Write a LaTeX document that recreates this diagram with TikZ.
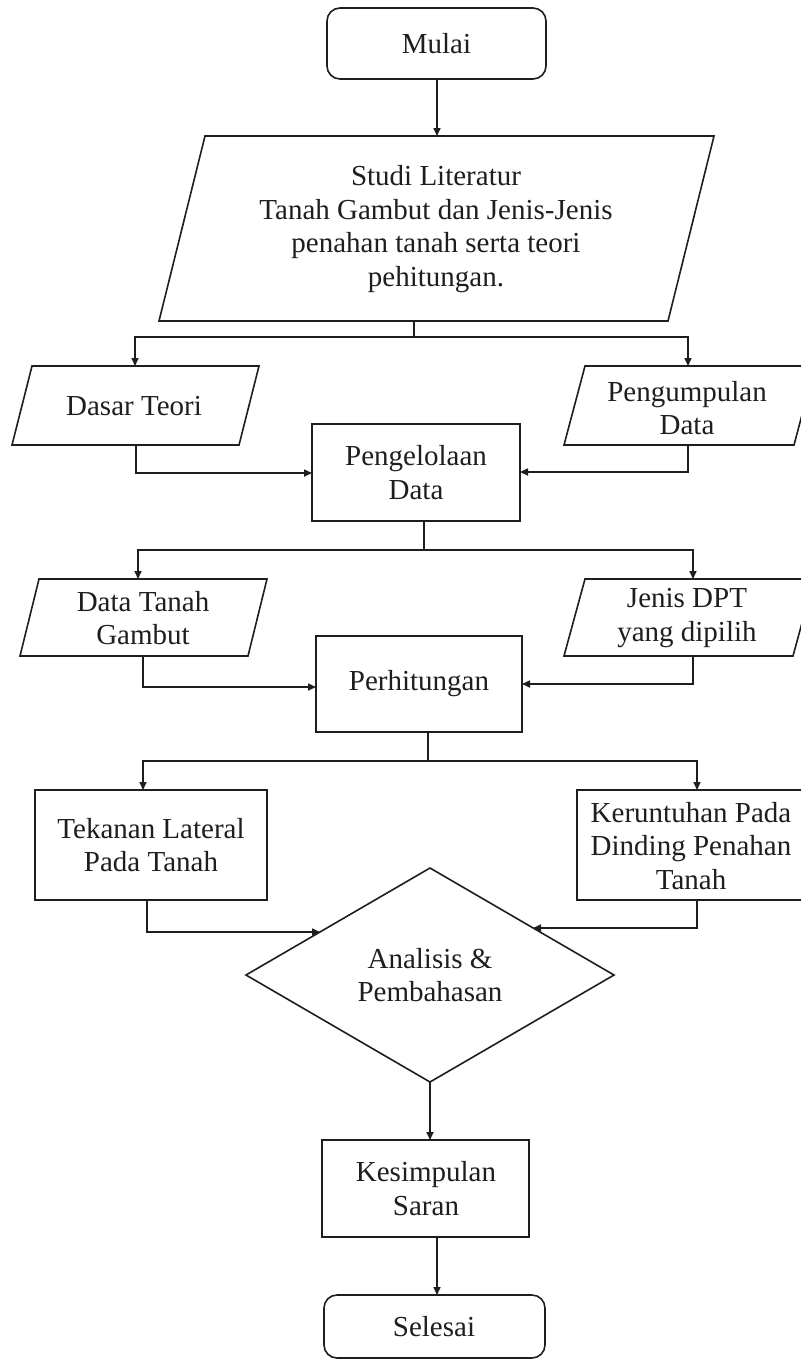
\documentclass[tikz,border=0pt]{standalone}
\usepackage{fontspec}
\setmainfont{Liberation Serif}
\usetikzlibrary{arrows.meta}
\definecolor{ink}{HTML}{1E1E1E}
\tikzset{
  shapeline/.style={draw=ink, line width=1.6pt, line join=miter},
  conn/.style={draw=ink, line width=1.6pt},
  arr/.style={conn, -{Triangle[length=8pt,width=7pt]}},
  txt/.style={align=center, text=ink, inner sep=0pt, font=\fontsize{29}{33.5}\selectfont}
}
\begin{document}
\begin{tikzpicture}[x=1pt,y=-1pt]
\useasboundingbox (0,0) rectangle (801,1361);
\fill[white] (0,0) rectangle (801,1361);

% ---------- shapes ----------
% Mulai
\draw[shapeline, rounded corners=13pt] (327,8) rectangle (546,79);
% Studi Literatur (parallelogram)
\draw[shapeline] (205,136) -- (714,136) -- (668,321) -- (159,321) -- cycle;
% Dasar Teori
\draw[shapeline] (32,366) -- (259,366) -- (239,445) -- (12,445) -- cycle;
% Pengumpulan Data
\draw[shapeline] (585,366) -- (815,366) -- (794,445) -- (564,445) -- cycle;
% Pengelolaan Data
\draw[shapeline] (312,424) rectangle (520,521);
% Data Tanah Gambut
\draw[shapeline] (39,579) -- (267,579) -- (248,656) -- (20,656) -- cycle;
% Jenis DPT
\draw[shapeline] (585,579) -- (814,579) -- (793,656) -- (564,656) -- cycle;
% Perhitungan
\draw[shapeline] (316,636) rectangle (522,732);
% Tekanan Lateral
\draw[shapeline] (35,790) rectangle (267,900);
% Keruntuhan
\draw[shapeline] (577,790) rectangle (806,900);
% Analisis diamond
\draw[shapeline] (430,868) -- (614,975) -- (430,1082) -- (246,975) -- cycle;
% Kesimpulan
\draw[shapeline] (322,1140) rectangle (529,1237);
% Selesai
\draw[shapeline, rounded corners=13pt] (324,1295) rectangle (545,1358);

% ---------- texts ----------
\node[txt] (mulai) at (436.5,43.5) {Mulai};
\node[txt] (studi) at (436,229) {Studi Literatur\\Tanah Gambut dan Jenis-Jenis\\penahan tanah serta teori\\pehitungan.};
\node[txt] (dasar) at (134,406) {Dasar Teori};
\node[txt] (kumpul) at (687,408) {Pengumpulan\\Data};
\node[txt] (kelola) at (416,472.5) {Pengelolaan\\Data};
\node[txt] (gambut) at (143,618) {Data Tanah\\Gambut};
\node[txt] (dpt) at (687,618) {Jenis DPT\\yang dipilih};
\node[txt] (hitung) at (419,684) {Perhitungan};
\node[txt] (tekanan) at (151,845) {Tekanan Lateral\\Pada Tanah};
\node[txt] (runtuh) at (691,846) {Keruntuhan Pada\\Dinding Penahan\\Tanah};
\node[txt] (analisis) at (430,975) {Analisis \&\\Pembahasan};
\node[txt] (simpul) at (426,1188.5) {Kesimpulan\\Saran};
\node[txt] (selesai) at (434,1327) {Selesai};

% ---------- connector coordinates ----------
\coordinate (mulaiS) at (437,79);
\coordinate (studiN) at (437,136);
\coordinate (studiS) at (414,321);
\coordinate (split1) at (414,337);
\coordinate (dasarN) at (135,366);
\coordinate (kumpulN) at (688,366);
\coordinate (dasarS) at (136,445);
\coordinate (kumpulS) at (688,445);
\coordinate (kelolaW) at (312,473);
\coordinate (kelolaE) at (520,472);
\coordinate (kelolaS) at (424,521);
\coordinate (split2) at (424,550);
\coordinate (gambutN) at (138,579);
\coordinate (dptN) at (693,579);
\coordinate (gambutS) at (143,656);
\coordinate (dptS) at (693,656);
\coordinate (hitungW) at (316,687);
\coordinate (hitungE) at (522,684);
\coordinate (hitungS) at (428,732);
\coordinate (split3) at (428,761);
\coordinate (tekananN) at (143,790);
\coordinate (runtuhN) at (697,790);
\coordinate (tekananS) at (147,900);
\coordinate (runtuhS) at (697,900);
\coordinate (diaL) at (320,932);
\coordinate (diaR) at (533,928);
\coordinate (diaS) at (430,1082);
\coordinate (simpulN) at (430,1140);
\coordinate (simpulS) at (437,1237);
\coordinate (selesaiN) at (437,1295);

% ---------- connectors ----------
\draw[arr] (mulaiS) -- (studiN);
\draw[conn] (studiS) -- (split1);
\draw[arr] (split1) -| (dasarN);
\draw[arr] (split1) -| (kumpulN);
\draw[arr] (dasarS) |- (kelolaW);
\draw[arr] (kumpulS) |- (kelolaE);
\draw[conn] (kelolaS) -- (split2);
\draw[arr] (split2) -| (gambutN);
\draw[arr] (split2) -| (dptN);
\draw[arr] (gambutS) |- (hitungW);
\draw[arr] (dptS) |- (hitungE);
\draw[conn] (hitungS) -- (split3);
\draw[arr] (split3) -| (tekananN);
\draw[arr] (split3) -| (runtuhN);
\draw[arr] (tekananS) |- (diaL);
\draw[arr] (runtuhS) |- (diaR);
\draw[arr] (diaS) -- (simpulN);
\draw[arr] (simpulS) -- (selesaiN);
\end{tikzpicture}
\end{document}
